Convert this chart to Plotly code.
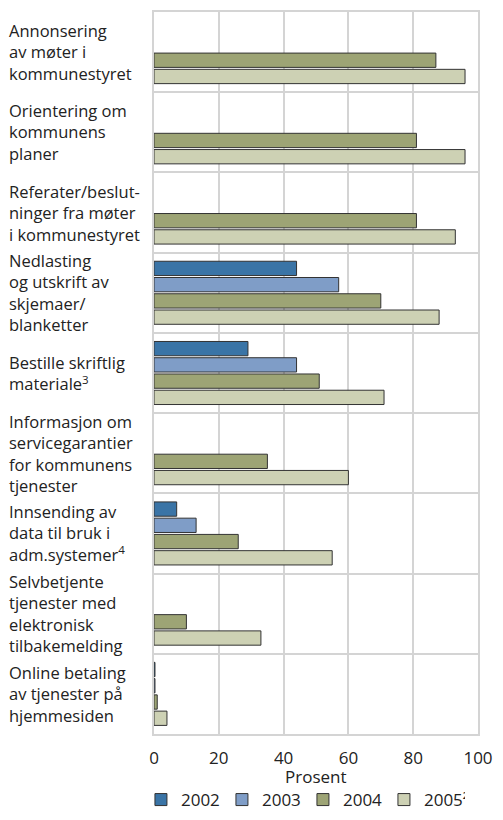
import plotly.graph_objects as go

categories = [
    "Annonsering<br>av møter i<br>kommunestyret",
    "Orientering om<br>kommunens<br>planer",
    "Referater/beslut-<br>ninger fra møter<br>i kommunestyret",
    "Nedlasting<br>og utskrift av<br>skjemaer/<br>blanketter",
    "Bestille skriftlig<br>materiale<sup>3</sup>",
    "Informasjon om<br>servicegarantier<br>for kommunens<br>tjenester",
    "Innsending av<br>data til bruk i<br>adm.systemer<sup>4</sup>",
    "Selvbetjente<br>tjenester med<br>elektronisk<br>tilbakemelding",
    "Online betaling<br>av tjenester på<br>hjemmesiden",
]
years = ["2002", "2003", "2004", "2005²"]
v2002 = [None, None, None, 44, 29, None, 7, None, 0.3]
v2003 = [None, None, None, 57, 44, None, 13, None, 0.3]
v2004 = [87, 81, 81, 70, 51, 35, 26, 10, 1]
v2005 = [96, 96, 93, 88, 71, 60, 55, 33, 4]
x_ticks = [0, 20, 40, 60, 80, 100]

colors = ["#3a74a6", "#7f9dc7", "#9da475", "#cdd1b4"]
font = "Open Sans, Noto Sans, sans-serif"

fig = go.Figure()
for name, vals, col in zip(years, [v2002, v2003, v2004, v2005], colors):
    fig.add_trace(go.Bar(
        y=categories, x=vals, name=name, orientation="h",
        marker=dict(color=col, line=dict(color="#333333", width=1)),
    ))

# left-aligned category labels
for cat in categories:
    fig.add_annotation(
        x=0, xref="paper", xshift=-147, xanchor="left",
        y=cat, yref="y", yanchor="middle",
        text=cat, align="left", showarrow=False,
        font=dict(family=font, size=16.5, color="#222222"),
    )

# axis title as annotation (axis title gets squeezed by the small bottom margin)
fig.add_annotation(
    x=0.5, xref="paper", y=0, yref="paper", yshift=-42,
    xanchor="center", yanchor="middle", text="Prosent", showarrow=False,
    font=dict(family=font, size=17, color="#222222"),
)

# page body has an 8px margin: keep the figure small enough to avoid scrollbars
fig.update_layout(
    width=487, height=804,
    margin=dict(l=146, r=16, t=2, b=78),
    paper_bgcolor="white", plot_bgcolor="white",
    barmode="group", bargap=0.19, bargroupgap=0.12,
    font=dict(family=font, size=16, color="#222222"),
    legend=dict(
        orientation="h", xref="container", x=0.273, xanchor="left",
        yref="container", y=0.0149, yanchor="middle",
        font=dict(size=17), traceorder="normal",
        entrywidth=36, entrywidthmode="pixels",
    ),
    xaxis=dict(
        range=[0, 100], tickvals=x_ticks, showgrid=True,
        gridcolor="#d4d4d4", gridwidth=2, zeroline=False,
        showline=True, mirror=True, linecolor="#d4d4d4", linewidth=2,
        ticks="outside", ticklen=8, tickcolor="rgba(0,0,0,0)",
        tickfont=dict(size=17), ticklabeloverflow="allow",
    ),
    yaxis=dict(
        type="category", autorange="reversed", tickson="boundaries",
        showgrid=True, gridcolor="#d4d4d4", gridwidth=2,
        showline=True, mirror=True, linecolor="#d4d4d4", linewidth=2,
        showticklabels=False, ticks="",
    ),
)

fig.write_html("out.html")
